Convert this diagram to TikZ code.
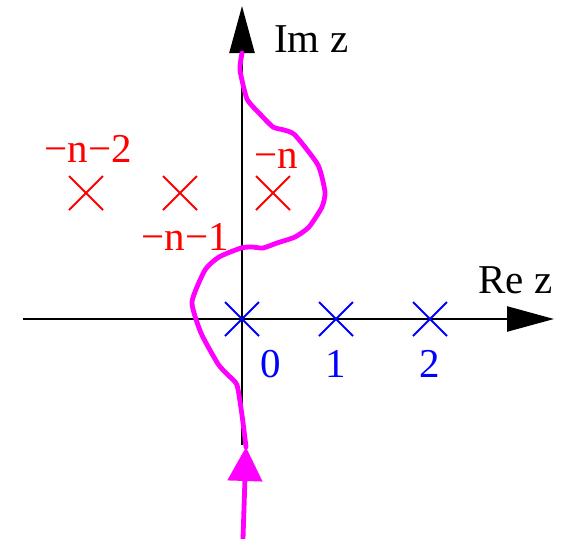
\documentclass[tikz,border=0pt]{standalone}
\usepackage{fontspec}
\setmainfont{Liberation Serif}
\usetikzlibrary{arrows.meta,shapes.misc}
\definecolor{contourcol}{RGB}{255,0,255}

\begin{document}
\begin{tikzpicture}[x=1pt,y=-1pt,
    pole/.style={cross out, draw, line width=2pt, minimum size=32pt, inner sep=0pt},
    lbl/.style={font=\fontsize{41}{48}\selectfont, inner sep=0pt, anchor=base},
    axis/.style={line width=2.4pt, -{Triangle[length=47pt,width=25pt]}},
    contour/.style={contourcol, line width=4.8pt, line join=round, line cap=round}]
    \useasboundingbox (0,0) rectangle (566,539);

    % Axes
    \coordinate (xl) at (23,319);
    \coordinate (xr) at (554,319);
    \coordinate (yb) at (242,445);
    \coordinate (yt) at (242,6);
    \draw[axis] (xl) -- (xr);
    \draw[axis] (yb) -- (yt);
    \node[lbl, anchor=base west] (imz) at (274,52) {Im z};
    \node[lbl, anchor=base west] (rez) at (478,293) {Re z};

    % Poles on the real axis
    \node[pole, blue] (p0) at (242,319) {};
    \node[pole, blue] (p1) at (336,319) {};
    \node[pole, blue] (p2) at (430,319) {};
    \node[lbl, blue] (l0) at (271,377) {0};
    \node[lbl, blue] (l1) at (336,377) {1};
    \node[lbl, blue] (l2) at (430,377) {2};

    % Poles at -n, -n-1, -n-2
    \node[pole, red] (q0) at (273,193) {};
    \node[pole, red] (q1) at (180,193) {};
    \node[pole, red] (q2) at (86,193) {};
    \node[lbl, red] (m0) at (276,168) {−n};
    \node[lbl, red] (m1) at (185,250) {−n−1};
    \node[lbl, red] (m2) at (88,162) {−n−2};

    % Integration contour
    \coordinate (cb) at (243,539);
    \coordinate (ct) at (246,447);
    \draw[contour, line cap=butt, -{Triangle[length=34pt,width=34pt]}] (cb) -- (ct);
    \draw[contour] plot[smooth, tension=0.35] coordinates {
        (246,447) (242,415) (237,385) (228,375) (218,364) (201,333)
        (192,302) (205,270) (219,257) (241,248) (252,247) (263,248)
        (277,243) (295,237) (309,227) (322,207) (325,192) (318,165)
        (295,135) (284,130) (273,127) (259,113) (247,99) (240,70) (242,53)};
\end{tikzpicture}
\end{document}
